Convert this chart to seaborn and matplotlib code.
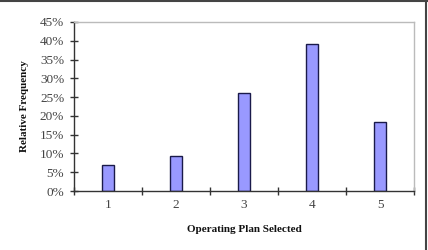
import matplotlib
matplotlib.use("Agg")
import matplotlib.pyplot as plt
import seaborn as sns
import pandas as pd
from matplotlib.ticker import PercentFormatter, FixedLocator
from matplotlib.lines import Line2D

plans = ["1", "2", "3", "4", "5"]
rel_freq = [0.069, 0.094, 0.261, 0.392, 0.184]
y_ticks = [0, 0.05, 0.10, 0.15, 0.20, 0.25, 0.30, 0.35, 0.40, 0.45]

sns.set_theme(style="white")
plt.rcParams["font.family"] = ["Liberation Serif", "DejaVu Serif"]

df = pd.DataFrame({"plan": plans, "freq": rel_freq})

fig = plt.figure(figsize=(4.28, 2.5), dpi=100)
ax = fig.add_axes([74/428, 1 - 191/250, 340/428, 169/250])

sns.barplot(data=df, x="plan", y="freq", order=plans, ax=ax,
            color="#9999ff", saturation=1, width=0.176,
            edgecolor="#1a1a4a", linewidth=1.0)

ax.set_xlim(-0.5, 4.5)
ax.set_ylim(0, 0.45)
ax.set_yticks(y_ticks)
ax.yaxis.set_major_formatter(PercentFormatter(1.0, decimals=0))
ax.xaxis.set_minor_locator(FixedLocator([-0.5, 0.5, 1.5, 2.5, 3.5, 4.5]))

for s in ["left", "bottom"]:
    ax.spines[s].set_color("#333333")
    ax.spines[s].set_linewidth(1.0)
for s in ["top", "right"]:
    ax.spines[s].set_color("#bbbbbb")
    ax.spines[s].set_linewidth(1.0)

ax.tick_params(axis="x", which="major", length=0, pad=6, labelsize=9.5, labelcolor="#444444")
ax.tick_params(axis="x", which="minor", direction="inout", length=6, width=1, color="#333333", bottom=True)
ax.tick_params(axis="y", which="major", direction="inout", length=6, width=1, color="#333333",
               left=True, labelsize=9.5, labelcolor="#444444", pad=4)

ax.set_xlabel("Operating Plan Selected", fontsize=8, fontweight="bold", labelpad=9.5, color="#111111")
ax.set_ylabel("Relative Frequency", fontsize=8, fontweight="bold", labelpad=8, color="#111111")

fig.add_artist(Line2D([0, 1], [1 - 0.5/250, 1 - 0.5/250], transform=fig.transFigure, color="#444444", linewidth=1.5))
fig.add_artist(Line2D([1 - 2.5/428, 1 - 2.5/428], [0, 1], transform=fig.transFigure, color="#444444", linewidth=1.5))

fig.savefig("out.png", dpi=100)
